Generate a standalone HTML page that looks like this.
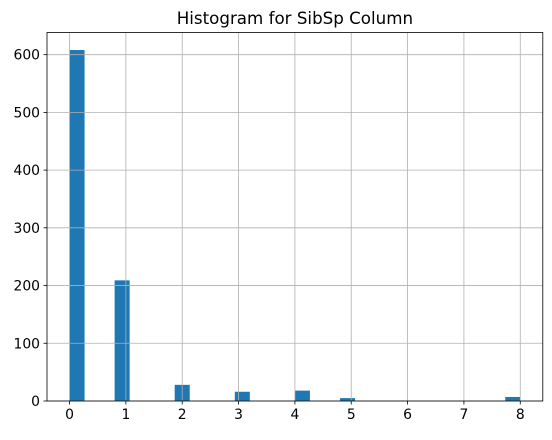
<!DOCTYPE html>
<html><head><meta charset="utf-8"><style>
body{margin:0;background:#fff;}
svg text{font-family:"DejaVu Sans","Liberation Sans",sans-serif;fill:#000;}
</style></head><body>
<svg id="chart" width="552" height="435" xmlns="http://www.w3.org/2000/svg"></svg>
<script>
const binValues = [0, 1, 2, 3, 4, 5, 8];
const binCounts = [608, 209, 28, 16, 18, 5, 7];
const xTicks = [0, 1, 2, 3, 4, 5, 6, 7, 8];
const yTicks = [0, 100, 200, 300, 400, 500, 600];
const titleText = "Histogram for SibSp Column";

const svg = document.getElementById('chart');
const NS = 'http://www.w3.org/2000/svg';
const L = 47, R = 542.8, T = 32.5, B = 401;
const xMin = -0.4, xMax = 8.4, yMax = 638.4;
const binW = 8 / 30;
const sx = v => L + (v - xMin) / (xMax - xMin) * (R - L);
const sy = v => B - v / yMax * (B - T);
function mk(tag, attrs, parent) {
  const e = document.createElementNS(NS, tag);
  for (const k in attrs) e.setAttribute(k, attrs[k]);
  (parent || svg).appendChild(e);
  return e;
}
binValues.forEach((v, i) => {
  let left = Math.min(Math.floor(v / binW + 1e-9), 29) * binW;
  const r = mk('rect', {x: sx(left), y: sy(binCounts[i]), width: sx(left + binW) - sx(left), height: sy(0) - sy(binCounts[i]), fill: '#1f77b4'});
  
  
});
const grid = mk('g', {});


xTicks.forEach(t => {
  const l = mk('line', {x1: sx(t), x2: sx(t), y1: T, y2: B, stroke: '#b0b0b0', 'stroke-width': 0.8}, grid);
  
  
});
yTicks.forEach(t => {
  const l = mk('line', {x1: L, x2: R, y1: sy(t), y2: sy(t), stroke: '#b0b0b0', 'stroke-width': 0.8}, grid);
  
  
});
const frame = mk('rect', {x: L, y: T, width: R - L, height: B - T, fill: 'none', stroke: '#000', 'stroke-width': 0.8});


xTicks.forEach(t => {
  mk('line', {x1: sx(t), x2: sx(t), y1: B, y2: B + 3.5, stroke: '#000', 'stroke-width': 0.8});
  const tx = mk('text', {x: sx(t), y: B + 18, 'text-anchor': 'middle', 'font-size': 13.9});
  tx.textContent = t;
  
  
});
yTicks.forEach(t => {
  mk('line', {x1: L - 3.5, x2: L, y1: sy(t), y2: sy(t), stroke: '#000', 'stroke-width': 0.8});
  const tx = mk('text', {x: L - 7, y: sy(t) + 5, 'text-anchor': 'end', 'font-size': 13.9});
  tx.textContent = t;
  
  
});
const title = mk('text', {x: (L + R) / 2, y: 24, 'text-anchor': 'middle', 'font-size': 16.7});
title.textContent = titleText;


</script>
</body></html>
